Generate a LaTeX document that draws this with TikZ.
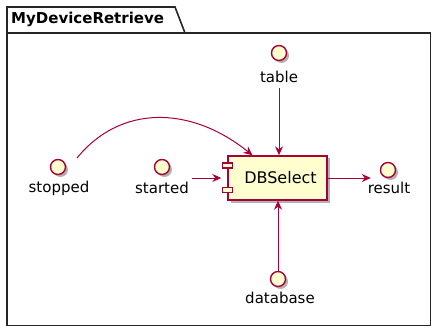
\documentclass[tikz,border=0pt]{standalone}
\usepackage{fontspec}
\setmainfont{DejaVu Sans}
\usetikzlibrary{arrows.meta,shadows}
\definecolor{umlborder}{HTML}{A80036}
\definecolor{umlfill}{HTML}{FEFECE}
\tikzset{
  softshadow/.style={drop shadow={shadow xshift=2.5pt,shadow yshift=-2.5pt,opacity=0.3,fill=black}},
  iface/.style={circle,draw=umlborder,fill=umlfill,line width=1.4pt,minimum size=15pt,inner sep=0pt,softshadow},
  ilabel/.style={font=\fontsize{15}{18}\selectfont,inner sep=0pt},
  compbox/.style={rectangle,draw=umlborder,fill=umlfill,line width=1.4pt,minimum width=99pt,minimum height=44pt,inner sep=0pt,softshadow,font=\fontsize{16}{19}\selectfont},
  portbox/.style={rectangle,draw=umlborder,fill=umlfill,line width=1.2pt,minimum width=10pt,minimum height=5pt,inner sep=0pt},
  arr/.style={draw=umlborder,line width=1pt,-{Stealth[length=9pt,width=8pt,inset=3pt]}},
  frameline/.style={draw=black!85,line width=1.6pt},
}
\begin{document}
\begin{tikzpicture}[x=1pt,y=-1pt]
\useasboundingbox (0,0) rectangle (431,326);
\fill[white] (0,0) rectangle (431,326);

% package frame with its name tab (right and bottom edges run along the page border)
\draw[frameline] (7,33) -- (7,326) -- (431,326) -- (431,33) -- cycle;
\draw[frameline] (7,33) -- (7,7) -- (175,7) -- (185,33);
\node[anchor=base west,inner sep=0pt,font=\bfseries\fontsize{15}{18}\selectfont] (pkgname) at (11,24) {MyDeviceRetrieve};

% component
\node[compbox] (db) at (277.5,178) {\hspace*{6pt}DBSelect};
\node[portbox] (porttop) at ([yshift=12.5pt]db.west) {};
\node[portbox] (portbot) at ([yshift=-12pt]db.west) {};

% interfaces
\node[iface] (table) at (279,53) {};
\node[ilabel] (tablelbl) at (279,77) {table};
\node[iface] (stopped) at (58,167) {};
\node[ilabel] (stoppedlbl) at (59,188) {stopped};
\node[iface] (started) at (162,167) {};
\node[ilabel] (startedlbl) at (162,188) {started};
\node[iface] (result) at (388,170) {};
\node[ilabel] (resultlbl) at (389,188) {result};
\node[iface] (database) at (278,279) {};
\node[ilabel] (databaselbl) at (280,298) {database};

% connectors
\coordinate (stopout) at (77,158);
\draw[arr] ([yshift=-5pt]tablelbl.south) -- (table.south |- db.north);
\draw[arr] (stopout) .. controls (120,105) and (190,105) .. ([xshift=-25pt]db.north);
\draw[arr] ([xshift=3pt]startedlbl.east |- db.west) -- ([xshift=-6pt]db.west);
\draw[arr] (database.north) -- (database.north |- db.south);
\draw[arr] (db.east) -- ([xshift=-9pt]result.west |- db.east);
\end{tikzpicture}
\end{document}
